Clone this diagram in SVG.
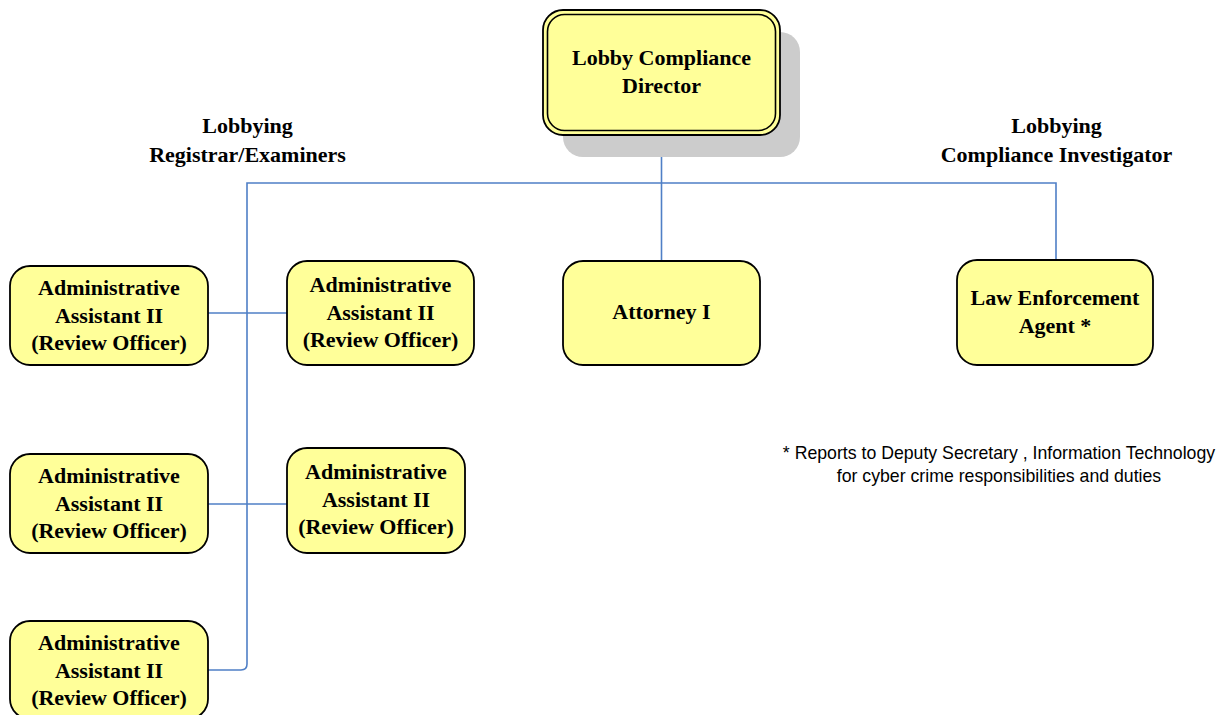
<svg xmlns="http://www.w3.org/2000/svg" width="1224" height="715" viewBox="0 0 1224 715">
  <style>
    .box { fill: #ffff99; stroke: #000; stroke-width: 1.8; }
    .lbl { font-family: "Liberation Serif", "Times New Roman", serif; font-weight: bold; font-size: 22px; fill: #000; text-anchor: middle; }
    .note { font-family: "Liberation Sans", Arial, sans-serif; font-size: 17.7px; fill: #000; text-anchor: middle; }
    .conn { fill: none; stroke: #4f7fc6; stroke-width: 1.6; }
  </style>
  <rect width="1224" height="715" fill="#fff"/>

  <!-- connectors -->
  <g id="connectors">
    <line class="conn" x1="661.5" y1="135" x2="661.5" y2="261"/>
    <polyline class="conn" points="247,664 247,183 1056,183 1056,260"/>
    <path class="conn" d="M247,664 Q247,670 241,670 L208,670"/>
    <line class="conn" x1="208" y1="313" x2="287" y2="313"/>
    <line class="conn" x1="208" y1="504" x2="287" y2="504"/>
  </g>

  <!-- director -->
  <g id="director">
    <rect x="563" y="32" width="237" height="125" rx="20" fill="#cccccc"/>
    <rect x="543" y="10" width="237" height="125" rx="20" class="box" stroke-width="2"/>
    <rect x="547.5" y="14.5" width="228" height="116" rx="17" fill="none" stroke="#000" stroke-width="1.6"/>
    <text class="lbl" x="661.5" y="65">Lobby Compliance</text>
    <text class="lbl" x="661.5" y="93">Director</text>
  </g>

  <!-- group headings -->
  <g id="heading-registrar">
    <text class="lbl" x="247.5" y="133">Lobbying</text>
    <text class="lbl" x="247.5" y="162">Registrar/Examiners</text>
  </g>
  <g id="heading-investigator">
    <text class="lbl" x="1056.5" y="133">Lobbying</text>
    <text class="lbl" x="1056.5" y="162">Compliance Investigator</text>
  </g>

  <!-- review officers -->
  <g id="review-1">
    <rect x="10" y="266" width="198" height="99" rx="20" class="box"/>
    <text class="lbl" x="109" y="295">Administrative</text>
    <text class="lbl" x="109" y="323">Assistant II</text>
    <text class="lbl" x="109" y="350">(Review Officer)</text>
  </g>
  <g id="review-2">
    <rect x="287" y="261" width="187" height="104" rx="20" class="box"/>
    <text class="lbl" x="380.5" y="292">Administrative</text>
    <text class="lbl" x="380.5" y="320">Assistant II</text>
    <text class="lbl" x="380.5" y="347">(Review Officer)</text>
  </g>
  <g id="review-3">
    <rect x="10" y="454" width="198" height="99" rx="20" class="box"/>
    <text class="lbl" x="109" y="483">Administrative</text>
    <text class="lbl" x="109" y="511">Assistant II</text>
    <text class="lbl" x="109" y="538">(Review Officer)</text>
  </g>
  <g id="review-4">
    <rect x="287" y="448" width="178" height="105" rx="20" class="box"/>
    <text class="lbl" x="376" y="479">Administrative</text>
    <text class="lbl" x="376" y="507">Assistant II</text>
    <text class="lbl" x="376" y="534">(Review Officer)</text>
  </g>
  <g id="review-5">
    <rect x="10" y="621" width="198" height="98" rx="20" class="box"/>
    <text class="lbl" x="109" y="650">Administrative</text>
    <text class="lbl" x="109" y="678">Assistant II</text>
    <text class="lbl" x="109" y="705">(Review Officer)</text>
  </g>

  <!-- attorney -->
  <g id="attorney">
    <rect x="563" y="261" width="197" height="104" rx="20" class="box"/>
    <text class="lbl" x="661.5" y="319">Attorney I</text>
  </g>

  <!-- law enforcement -->
  <g id="law-enforcement">
    <rect x="957" y="260" width="196" height="105" rx="20" class="box"/>
    <text class="lbl" x="1055" y="305">Law Enforcement</text>
    <text class="lbl" x="1055" y="333">Agent *</text>
  </g>

  <!-- footnote -->
  <g id="footnote">
    <text class="note" x="999" y="459">* Reports to Deputy Secretary , Information Technology</text>
    <text class="note" x="999" y="482">for cyber crime responsibilities and duties</text>
  </g>
</svg>
